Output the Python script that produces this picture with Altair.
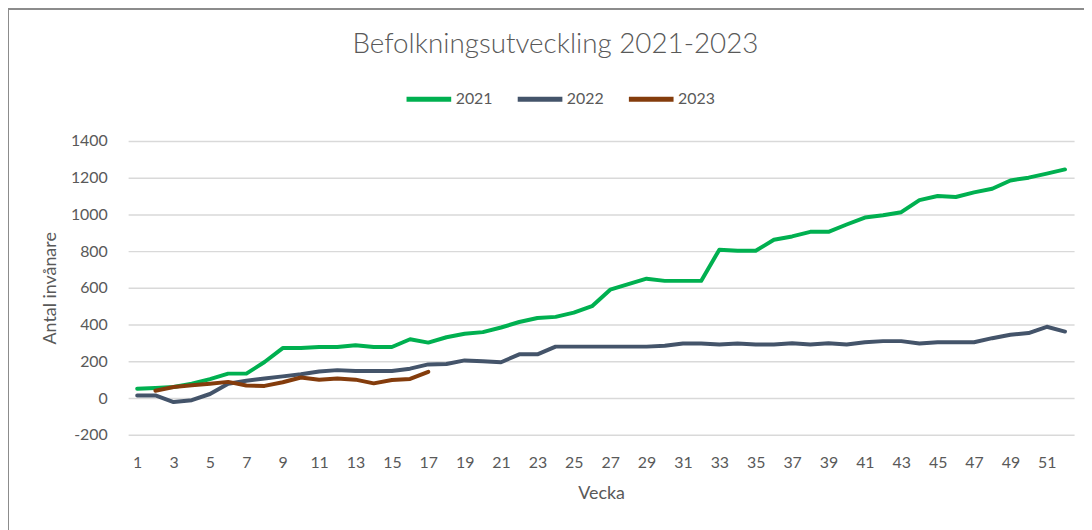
import altair as alt
import pandas as pd

weeks = list(range(1, 53))
v2021 = [51, 55, 60, 78, 103, 133, 133, 196, 272, 272, 278, 278, 288, 278, 278, 320, 302, 331, 350, 359,
         384, 414, 436, 442, 465, 500, 590, 620, 650, 638, 638, 638, 808, 802, 802, 862, 880, 905, 905, 945,
         983, 995, 1012, 1078, 1100, 1095, 1120, 1140, 1185, 1200, 1222, 1245]
v2022 = [14, 14, -22, -12, 22, 78, 94, 106, 118, 130, 145, 152, 147, 147, 147, 160, 183, 185, 205, 200,
         195, 238, 238, 280, 280, 280, 280, 280, 280, 285, 297, 297, 292, 297, 292, 292, 298, 292, 298, 292,
         304, 310, 310, 297, 304, 304, 304, 326, 345, 354, 388, 362]
v2023 = [None, 40, 60, 70, 78, 88, 68, 66, 86, 112, 100, 106, 100, 80, 98, 104, 143]

series_names = ["2021", "2022", "2023"]
series_colors = ["#00B050", "#44546A", "#843C0C"]
x_ticks = list(range(1, 52, 2))
y_ticks = list(range(-200, 1401, 200))

rows = []
for name, vals in zip(series_names, [v2021, v2022, v2023]):
    for w, v in zip(weeks, vals):
        if v is not None:
            rows.append({"Vecka": w, "Antal": v, "År": name})
df = pd.DataFrame(rows)

FONT = "Lato"
TEXT = "#595959"

lines = alt.Chart(df).mark_line(strokeWidth=4, strokeJoin="round", strokeCap="round").encode(
    x=alt.X("Vecka:Q",
            scale=alt.Scale(domain=[0.5, 52.5], nice=False, zero=False),
            axis=alt.Axis(values=x_ticks, title="Vecka", grid=False, ticks=False, domain=False,
                          format="d", labelPadding=20, titlePadding=14)),
    y=alt.Y("Antal:Q",
            scale=alt.Scale(domain=[-200, 1400], nice=False),
            axis=alt.Axis(values=y_ticks, title="Antal invånare", grid=True, ticks=False, domain=False,
                          labelExpr="toString(datum.value)", labelPadding=21, titleX=-78, titleY=148,
                          titleAngle=-90, titleBaseline="middle", titleAlign="center")),
    color=alt.Color("År:N",
                    scale=alt.Scale(domain=series_names, range=series_colors),
                    legend=alt.Legend(title=None, orient="none", legendX=278, legendY=-67,
                                      direction="horizontal", symbolType="stroke",
                                      symbolSize=2025, symbolStrokeWidth=5,
                                      labelOffset=2, columnPadding=14)),
)

frame = alt.Chart(pd.DataFrame({"f": [0]})).mark_rect(
    filled=False, stroke="#8C8C8C", strokeWidth=2
).encode(
    x=alt.value(-121), x2=alt.value(1000), y=alt.value(-133), y2=alt.value(400)
)

chart = alt.layer(frame, lines).properties(
    width=953,
    height=296,
    autosize=alt.AutoSizeParams(type="none"),
    padding={"left": 121, "top": 132, "right": 10, "bottom": 94},
    title=alt.Title("Befolkningsutveckling 2021-2023", fontSize=28, font=FONT, fontWeight=300,
                    color=TEXT, anchor="middle", frame="group", dx=-46, dy=73, offset=0,
                    baseline="alphabetic"),
).configure(
    font=FONT,
).configure_view(
    stroke=None
).configure_axis(
    labelFont=FONT, titleFont=FONT, labelColor=TEXT, titleColor=TEXT,
    labelFontSize=16, titleFontSize=18, titleFontWeight="normal",
    gridColor="#D9D9D9", gridWidth=1.5
).configure_legend(
    labelFont=FONT, labelFontSize=16, labelColor=TEXT
)

chart.save("out.html", embed_options={"renderer": "svg", "actions": False})
